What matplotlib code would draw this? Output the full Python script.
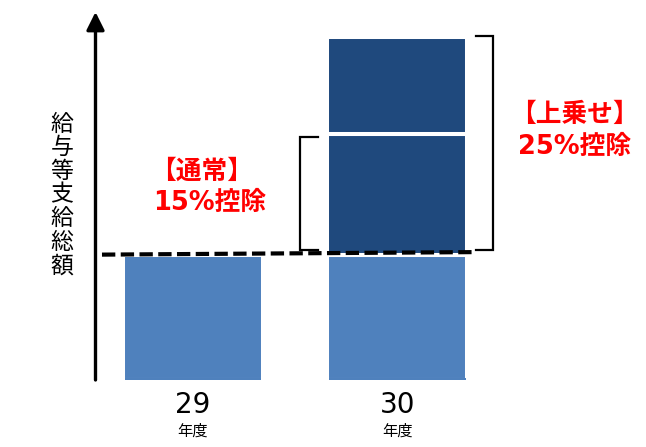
import matplotlib
matplotlib.use("Agg")
import matplotlib.pyplot as plt

plt.rcParams['font.family'] = ['Noto Sans CJK JP', 'DejaVu Sans']

# ---- data ----
years = ["29", "30"]
year_unit = "年度"
base_values = [100, 100]      # 給与等支給総額 (base)
normal_increase = [0, 97]     # 【通常】15%控除 portion
extra_increase = [0, 77]      # 【上乗せ】25%控除 portion
ylabel_text = "給与等支給総額"
normal_label = ["【通常】", "15%控除"]
extra_label = ["【上乗せ】", "25%控除"]

light_blue = "#4F81BD"
dark_blue = "#1F497D"
red = "#FF0000"

W, H = 646, 447
fig = plt.figure(figsize=(W / 100, H / 100), dpi=100)

px_per_unit_y = 1.25
px_per_unit_x = 204.3
x0_px = 192.9
ax_left_px, baseline_px, ax_top_px = 95.5, 380, 12
pad_px = 3
ax = fig.add_axes([ax_left_px / W, (H - baseline_px - pad_px) / H,
                   (W - ax_left_px) / W, (baseline_px + pad_px - ax_top_px) / H])
ax.set_ylim(-pad_px / px_per_unit_y, (baseline_px - ax_top_px) / px_per_unit_y)
ax.set_xlim((ax_left_px - x0_px) / px_per_unit_x, (W - x0_px) / px_per_unit_x)
for s in ax.spines.values():
    s.set_visible(False)
ax.set_xticks([])
ax.set_yticks([])

xs = list(range(len(years)))
bw = 0.683
edge_lw = 2.9
ax.bar(xs, base_values, width=bw, color=light_blue, edgecolor="white", linewidth=edge_lw, zorder=2)
b1 = [b for b in base_values]
ax.bar(xs[1:], normal_increase[1:], bottom=b1[1:], width=bw, color=dark_blue,
       edgecolor="white", linewidth=edge_lw, zorder=2)
b2 = [b + n for b, n in zip(base_values, normal_increase)]
ax.bar(xs[1:], extra_increase[1:], bottom=b2[1:], width=bw, color=dark_blue,
       edgecolor="white", linewidth=edge_lw, zorder=2)
# re-fill the white edge strip at the baseline
ax.bar(xs, [2] * len(xs), bottom=0, width=bw - 0.014, color=light_blue, lw=0, zorder=2.2)

# dashed reference line at 29年度 level
ln, = ax.plot([-0.445, 1.366], [base_values[0] + 0.3, base_values[0] + 2.3],
              color="black", lw=3.0, zorder=4, solid_capstyle="butt")
ln.set_dashes((3.2, 1.3))

# brackets
top_normal = b2[1] - 2.5
top_extra = b2[1] + extra_increase[1] + 0.8
bot = base_values[1] + 4
ax.plot([0.611, 0.524, 0.524, 0.611], [top_normal, top_normal, bot, bot],
        color="black", lw=1.6, zorder=3, solid_joinstyle="miter")
ax.plot([1.386, 1.470, 1.470, 1.386], [top_extra, top_extra, bot, bot],
        color="black", lw=1.6, zorder=3, solid_joinstyle="miter")

# red annotations
red_font = ["DejaVu Sans", "Noto Sans CJK JP"]
fs_red = 18.5
ax.text(0.04, (380 - 172) / px_per_unit_y, normal_label[0], color=red, fontsize=fs_red,
        fontweight="bold", ha="center", va="center", family=red_font)
ax.text(0.083, (380 - 203) / px_per_unit_y, normal_label[1], color=red, fontsize=fs_red,
        fontweight="bold", ha="center", va="center", family=red_font)
ax.text((574 - x0_px) / px_per_unit_x, (380 - 115) / px_per_unit_y, extra_label[0], color=red,
        fontsize=fs_red, fontweight="bold", ha="center", va="center", family=red_font)
ax.text((575 - x0_px) / px_per_unit_x, (380 - 147) / px_per_unit_y, extra_label[1], color=red,
        fontsize=fs_red, fontweight="bold", ha="center", va="center", family=red_font)

# arrow axis
ax.annotate("", xy=(0, 1), xytext=(0, 0), xycoords="axes fraction",
            textcoords=("axes fraction", "data"),
            arrowprops=dict(arrowstyle="-|>", lw=2.4, color="black",
                            mutation_scale=27, shrinkA=0, shrinkB=0))

# x tick labels
for x, y in zip(xs, years):
    ax.text(x, -(405 - 380) / px_per_unit_y, y, fontsize=20, ha="center", va="center",
            family=["DejaVu Sans"])
    ax.text(x, -(431 - 380) / px_per_unit_y, year_unit, fontsize=11, ha="center", va="center")

# vertical y label
fig.text(62 / W, 1 - 195 / H, "\n".join(ylabel_text), fontsize=16.5, ha="center", va="center",
         linespacing=1.03)

fig.savefig("out.png", dpi=100)
